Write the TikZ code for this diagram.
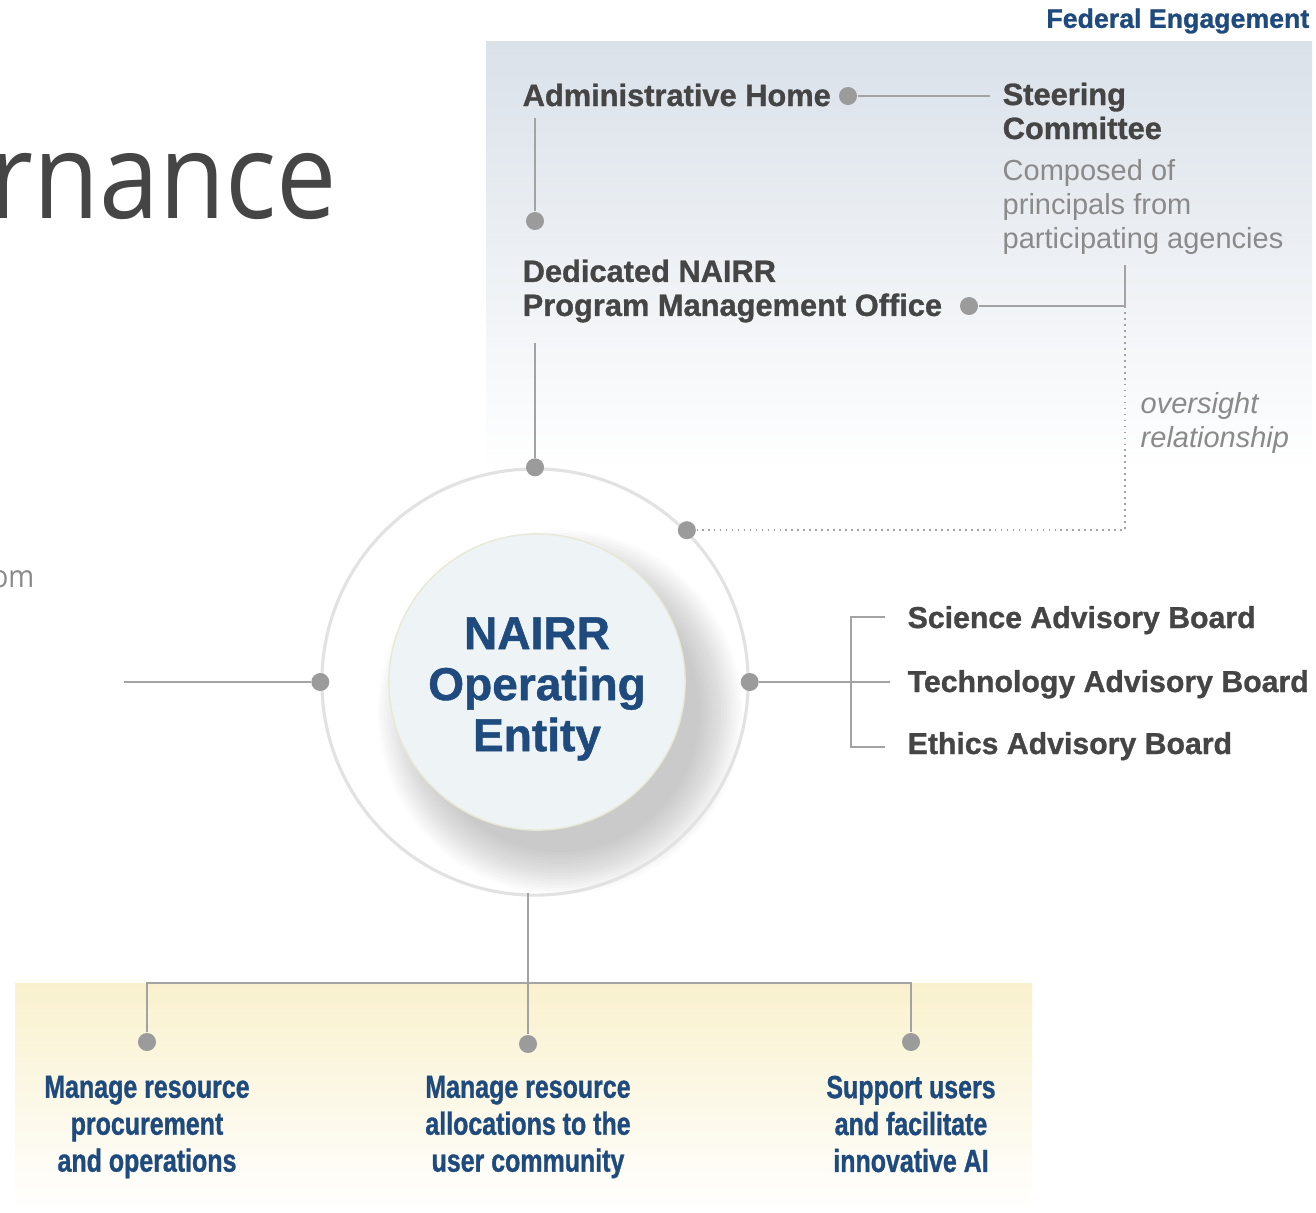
\documentclass[tikz,border=0pt]{standalone}
\usepackage{fontspec}
\setmainfont{Liberation Sans}
\newfontfamily\heavyfont[BoldFeatures={FakeBold=1}]{Liberation Sans}
\newfontfamily\condfont[FakeStretch=0.78, BoldFeatures={FakeBold=1}]{Liberation Sans}
\newfontfamily\headfont[FakeStretch=0.9]{Open Sans}
\usetikzlibrary{positioning,calc}

\definecolor{nairrblue}{HTML}{1F4A7E}
\definecolor{txtgray}{HTML}{454545}
\definecolor{softgray}{HTML}{8A8A8A}
\definecolor{dotgray}{HTML}{9B9B9B}
\definecolor{linegray}{HTML}{A3A3A3}
\definecolor{ringgray}{HTML}{E2E2E2}
\definecolor{fedpanel}{HTML}{DAE1E9}
\definecolor{opspanel}{HTML}{F9F1CE}
\definecolor{corefill}{HTML}{EEF3F6}

\tikzset{
  bullet/.style={circle, fill=dotgray, inner sep=0pt, minimum size=0.18cm},
  connector/.style={draw=linegray, line width=0.6pt},
  unittext/.style={anchor=west, inner sep=0pt, align=left, text=txtgray, font=\heavyfont\bfseries\fontsize{8.76}{9.67}\selectfont},
  notetext/.style={anchor=west, inner sep=0pt, align=left, text=softgray, font=\fontsize{8.25}{9.67}\selectfont},
  boardtext/.style={anchor=base west, inner sep=0pt, text=txtgray, font=\heavyfont\bfseries\fontsize{8.6}{9.7}\selectfont},
  tasktext/.style={inner sep=0pt, align=center, text=nairrblue, font=\condfont\bfseries\fontsize{9.1}{10.5}\selectfont},
}

\begin{document}
\begin{tikzpicture}[x=0.01cm, y=-0.01cm]
    \def\ringradius{2.13cm}
    \def\coreradius{1.48cm}
    \useasboundingbox (0,0) rectangle (1316,1212);

    % panels
    \shade[top color=fedpanel, bottom color=white] (486,41) rectangle (1312,470);
    \shade[top color=opspanel, bottom color=white] (15,983) rectangle (1032,1212);

    \node[anchor=east, inner sep=0pt, text=txtgray, font=\headfont\fontsize{34}{34}\selectfont] (govtitle) at (338,187) {rnance};
    \node[anchor=east, inner sep=0pt, text=softgray, font=\headfont\fontsize{8.8}{10}\selectfont] (sidenote) at (35,579) {om};
    \node[anchor=east, inner sep=0pt, text=nairrblue, font=\heavyfont\bfseries\fontsize{7.6}{9}\selectfont] (fedlabel) at (1310,21) {Federal Engagement};

    % operating entity
    \foreach \k in {0,...,14}
        \fill[black, opacity=0.014] (560,712) circle[radius=140+3*\k];
    \node[circle, draw=ringgray, line width=0.9pt, minimum size=2*\ringradius] (ring) at (535,682) {};
    \node[circle, fill=corefill, draw=white!90!yellow!80!gray, line width=0.4pt, inner sep=0pt, minimum size=2*\coreradius] (core) at (537,682) {};
    \node[align=center, inner sep=0pt, text=nairrblue, font=\heavyfont\bfseries\fontsize{13.1}{14.5}\selectfont] (coretext) at (537,689) {NAIRR\\Operating\\Entity};

    \node[bullet] (dtop) at (ring.north) {};
    \node[bullet] (dover) at (ring.45) {};
    \node[bullet] (dleft) at (ring.west) {};
    \node[bullet] (dright) at (ring.east) {};

    % federal engagement
    \node[unittext] (admin) at (522,95) {Administrative Home};
    \node[unittext] (steer) at (1002,111) {Steering\\Committee};
    \node[notetext] (steernote) at (1002,207) {Composed of\\principals from\\participating agencies};
    \node[unittext] (pmo) at (522,291) {Dedicated NAIRR\\Program Management Office};
    \node[notetext, font=\itshape\fontsize{8.25}{9.67}\selectfont] (oversight) at (1140,423) {oversight\\relationship};

    \node[bullet] (dadmin) at (848,96) {};
    \node[bullet] (dpmotop) at (535,221) {};
    \node[bullet] (dpmo) at (969,306) {};
    \coordinate (adminfoot) at (535,118);
    \coordinate (steerend) at (990,96);
    \coordinate (steerfoot) at (1125,265);
    \coordinate (pmofoot) at (535,343);

    \draw[connector] (adminfoot) -- (dpmotop);
    \draw[connector] (dadmin) -- (steerend);
    \draw[connector] (dpmo) -| (steerfoot);
    \draw[connector, dash pattern=on 0.5pt off 1.2pt] (steerfoot |- dpmo) |- (dover);
    \draw[connector] (dtop) -- (pmofoot);

    % advisory boards
    \node[boardtext] (sab) at (907,628) {Science Advisory Board};
    \node[boardtext] (tab) at (907,692) {Technology Advisory Board};
    \node[boardtext] (eab) at (907,754) {Ethics Advisory Board};
    \coordinate (tabin) at ([xshift=-0.17cm]tab.west);
    \draw[connector] (dright) -- (tabin |- dright);
    \draw[connector] ([xshift=-0.22cm, yshift=0.11cm]sab.base west) -- ([xshift=-0.56cm, yshift=0.11cm]sab.base west)
        -- ([xshift=-0.56cm, yshift=0.07cm]eab.base west) -- ([xshift=-0.22cm, yshift=0.07cm]eab.base west);

    % left
    \coordinate (leftend) at (124,682);
    \draw[connector] (leftend) -- (dleft);

    % operations
    \coordinate (ringfoot) at (528,893);
    \coordinate (busmid) at (528,983);
    \node[bullet] (dproc) at (147,1042) {};
    \node[bullet] (dalloc) at (528,1044) {};
    \node[bullet] (dsupp) at (911,1042) {};
    \draw[connector] (ringfoot) -- (dalloc);
    \draw[connector] (dproc) |- (busmid) -| (dsupp);

    \node[tasktext] (proc) at (147,1127) {Manage resource\\procurement\\and operations};
    \node[tasktext] (alloc) at (528,1127) {Manage resource\\allocations to the\\user community};
    \node[tasktext] (supp) at (911,1124) {Support users\\and facilitate\\innovative AI};

\end{tikzpicture}
\end{document}
